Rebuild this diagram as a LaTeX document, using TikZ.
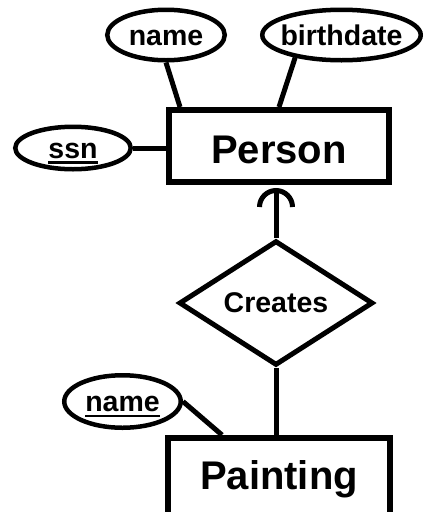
\documentclass[tikz,border=0pt]{standalone}
\usepackage{fontspec}
\setmainfont{Liberation Sans}
\usetikzlibrary{shapes.geometric,arrows.meta}
\newsavebox{\keybox}
\newcommand{\keyattr}[1]{\sbox{\keybox}{#1}\rlap{\smash{\rule[-5.5pt]{\wd\keybox}{2.5pt}}}\usebox{\keybox}}

\begin{document}
\begin{tikzpicture}[x=1pt,y=-1pt,
  entity/.style={draw,rectangle,line width=6pt,inner sep=0pt,font=\fontsize{40}{48}\selectfont\bfseries},
  attr/.style={draw,ellipse,line width=4.5pt,inner xsep=-40pt,inner ysep=0pt,text height=20pt,text depth=0pt,font=\fontsize{28.5}{34}\selectfont\bfseries},
  rel/.style={draw,diamond,line width=5pt,inner sep=0pt,font=\fontsize{28.5}{34}\selectfont\bfseries},
  link/.style={line width=5pt}]
  \useasboundingbox (0,0) rectangle (425,512);
  \clip (0,0) rectangle (425,512);

  % Person and its attributes
  \node[entity,minimum width=220pt,minimum height=72pt,text height=34pt,text depth=0pt] (person) at (279,146) {Person};
  \node[attr,minimum width=117.5pt,minimum height=50.5pt] (name) at (166,35) {name};
  \node[attr,minimum width=158.5pt,minimum height=50.5pt] (birthdate) at (341.5,35) {birthdate};
  \node[attr,minimum width=115.5pt,minimum height=42.5pt] (ssn) at (73,148) {\keyattr{ssn}};
  \draw[link] (name.south) -- ([xshift=14pt]person.north west);
  \draw[link] (birthdate.206) -- (person.north);
  \draw[link] (ssn.east) -- (person.west |- ssn.east);

  % Creates relationship
  \node[rel,minimum width=194pt,minimum height=121pt] (creates) at (276,303) {Creates};
  \draw[link,-{Arc Barb[width=38pt,length=19pt]},shorten >=3pt] (creates.north) -- (creates.north |- person.south);

  % Painting and its key
  \node[entity,minimum width=222pt,minimum height=83.4pt] (painting) at (279,479.7) {Painting};
  \node[attr,minimum width=116.5pt,minimum height=52.5pt] (pname) at (122.5,401.5) {\keyattr{name}};
  \draw[link] (creates.south) -- (creates.south |- painting.north);
  \draw[link] (pname.east) -- ([xshift=57pt]painting.north west);
\end{tikzpicture}
\end{document}
